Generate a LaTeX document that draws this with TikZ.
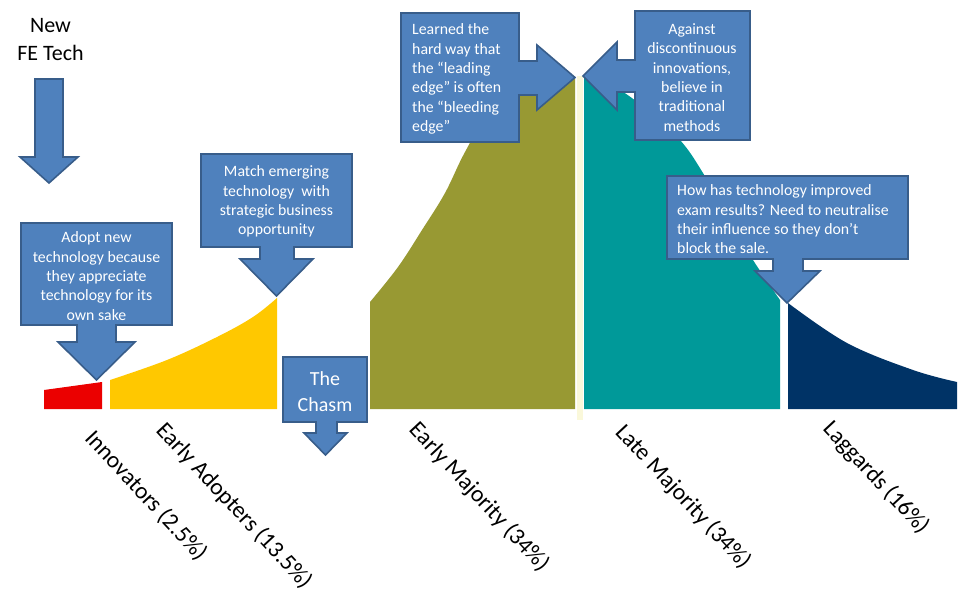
\documentclass[tikz,border=0pt]{standalone}
\usepackage{fontspec}
\setmainfont{Carlito}
\definecolor{cblue}{RGB}{79,129,189}
\definecolor{cborder}{RGB}{56,93,138}
\definecolor{cred}{RGB}{235,0,0}
\definecolor{cyellow}{RGB}{255,200,0}
\definecolor{colive}{RGB}{152,153,51}
\definecolor{cteal}{RGB}{0,153,153}
\definecolor{cnavy}{RGB}{0,51,102}
\definecolor{ccream}{RGB}{250,248,218}
\begin{document}
\begin{tikzpicture}[x=1pt,y=-1pt,
  callout/.style={fill=cblue,draw=cborder,line width=1.6pt,line join=miter},
  ctext/.style={text=white,font=\fontsize{15.8}{19.3}\selectfont,inner sep=0pt},
  lbl/.style={font=\fontsize{23.5}{26}\selectfont,rotate=-47,inner sep=0pt},
]
\useasboundingbox (0,0) rectangle (965,609);
% curve segments
\fill[cred] (44,409) -- (44,390) -- (102,382) -- (102,409) -- cycle;
\fill[cyellow] (110,409) -- plot[smooth,tension=0.6] coordinates {(110,380) (167,360) (217,337) (253,317) (277,298)} -- (277,409) -- cycle;
\fill[colive] (370,409) -- plot[smooth,tension=0.6] coordinates {(370,302) (398,267) (422,230) (445,193) (465,152) (490,112) (530,86) (575,77)} -- (575,409) -- cycle;
\fill[ccream] (577,76) rectangle (583,420);
\fill[cteal] (584,409) -- plot[smooth,tension=0.6] coordinates {(584,76) (610,84) (645,108) (680,140) (703,173) (730,220) (753,260) (780,300)} -- (780,409) -- cycle;
\fill[cnavy] (788,409) -- plot[smooth,tension=0.6] coordinates {(788,303) (847,343) (913,370) (957,382)} -- (957,409) -- cycle;
% New FE Tech arrow
\draw[callout] (35,79) -- (63,79) -- (63,157) -- (78,157) -- (49,183) -- (20,157) -- (35,157) -- cycle;
% Innovators callout
\draw[callout] (21,223) -- (172,223) -- (172,325) -- (116,325) -- (116,342) -- (135,342) -- (96.5,380) -- (58,342) -- (77,342) -- (77,325) -- (21,325) -- cycle;
% Early adopters callout
\draw[callout] (201,154) -- (352,154) -- (352,247) -- (294,247) -- (294,259) -- (313,259) -- (276.5,296) -- (240,259) -- (260,259) -- (260,247) -- (201,247) -- cycle;
% Chasm callout
\draw[callout] (283,357) -- (367,357) -- (367,422) -- (337,422) -- (337,433) -- (347,433) -- (325.5,455) -- (304,433) -- (316,433) -- (316,422) -- (283,422) -- cycle;
% Early majority callout (right pointing)
\draw[callout] (401,13) -- (519,13) -- (519,61) -- (537,61) -- (537,45) -- (575,77.5) -- (537,110) -- (537,95) -- (519,95) -- (519,142) -- (401,142) -- cycle;
% Late majority callout (left pointing)
\draw[callout] (750,11) -- (635,11) -- (635,60) -- (617,60) -- (617,42) -- (583,76) -- (617,110) -- (617,92) -- (635,92) -- (635,140) -- (750,140) -- cycle;
% Laggards callout
\draw[callout] (667,176) -- (908,176) -- (908,259) -- (803,259) -- (803,271) -- (820,271) -- (787,303) -- (755,271) -- (773,271) -- (773,259) -- (667,259) -- cycle;
% texts
\node[font=\fontsize{22}{28}\selectfont,align=center,inner sep=0pt] (newfe) at (50.5,39.5) {New\\FE Tech};
\node[ctext,align=center] (tinnov) at (96.5,276) {Adopt new\\technology because\\they appreciate\\technology for its\\own sake};
\node[ctext,align=center] (tadopt) at (276.5,201.5) {Match emerging\\technology \ with\\strategic business\\opportunity};
\node[ctext,align=center,font=\fontsize{20}{26}\selectfont] (tchasm) at (325,392) {The\\Chasm};
\node[ctext,align=left,anchor=west] (tearly) at (412,79) {Learned the\\hard way that\\the “leading\\edge” is often\\the “bleeding\\edge”};
\node[ctext,align=center] (tlate) at (692,77.5) {Against\\discontinuous\\innovations,\\believe in\\traditional\\methods};
\node[ctext,align=left,anchor=west] (tlag) at (677,219.5) {How has technology improved\\exam results? Need to neutralise\\their influence so they don’t\\block the sale.};
% axis labels
\node[lbl] (linnov) at (146,496) {Innovators (2.5\%)};
\node[lbl] (ladopt) at (234,506) {Early Adopters (13.5\%)};
\node[lbl] (learly) at (479,497) {Early Majority (34\%)};
\node[lbl] (llate) at (683,497) {Late Majority (34\%)};
\node[lbl] (llag) at (876,478) {Laggards (16\%)};
\end{tikzpicture}
\end{document}
